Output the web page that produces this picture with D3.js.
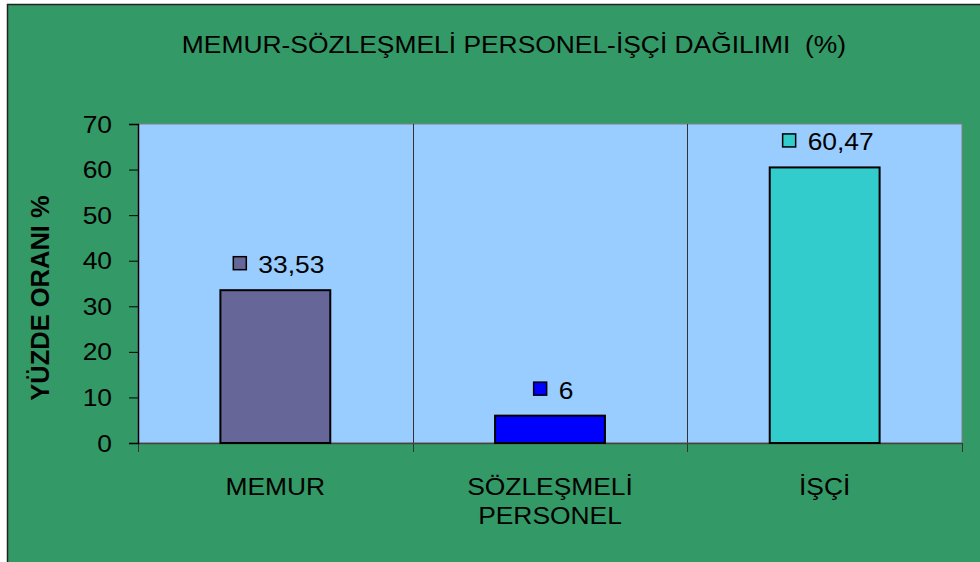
<!DOCTYPE html>
<html>
<head>
<meta charset="utf-8">
<script src="https://cdn.jsdelivr.net/npm/d3@7/dist/d3.min.js"></script>
<style>
  body { margin: 0; background: #fff; }
  text { font-family: "Liberation Sans", Arial, sans-serif; fill: #000; white-space: pre; }
</style>
</head>
<body>
<div id="chart"></div>
<script>
// data
var categories = ["MEMUR", "SÖZLEŞMELİ PERSONEL", "İŞÇİ"];
var catLines = [["MEMUR"], ["SÖZLEŞMELİ", "PERSONEL"], ["İŞÇİ"]];
var values = [33.53, 6, 60.47];
var valueLabels = ["33,53", "6", "60,47"];
var barColors = ["#666699", "#0000ff", "#33cccc"];
var yTicks = [0, 10, 20, 30, 40, 50, 60, 70];
var title = "MEMUR-SÖZLEŞMELİ PERSONEL-İŞÇİ DAĞILIMI  (%)";
var yTitle = "YÜZDE ORANI %";

var svgWidth = 980;
var svgHeight = 562;

var margin = { top: 124, right: 18, bottom: 119, left: 138 };
var width = svgWidth - margin.left - margin.right;
var height = svgHeight - margin.top - margin.bottom;
var stretch = 1.1;  // text in the picture is a bit wide

var svg = d3.select("#chart")
  .append("svg")
  .attr("width", svgWidth)
  .attr("height", svgHeight);

// frame
svg.append("rect")
  .attr("x", 7.5).attr("y", 4.5)
  .attr("width", svgWidth).attr("height", svgHeight)
  .attr("fill", "#339966")
  .attr("stroke", "#222")
  .attr("stroke-width", 1.5);

function wideText(sel, x, y, anchor) {
  return sel.append("text")
    .attr("transform", `translate(${x}, ${y}) scale(${stretch}, 1)`)
    .style("text-anchor", anchor || "middle");
}

wideText(svg, 514, 53)
  .style("font-size", "24px")
  .text(title);

var chartGroup = svg.append("g")
  .attr("transform", `translate(${margin.left}, ${margin.top})`);

// scales
var xBand = d3.scaleBand()
  .domain(categories)
  .range([0, width])
  .paddingInner(0.6)
  .paddingOuter(0.3);

var xCat = d3.scaleBand()
  .domain(categories)
  .range([0, width])
  .padding(0);

var yLinearScale = d3.scaleLinear()
  .domain([0, 70])
  .range([height, 0]);

// plot area
chartGroup.append("rect")
  .attr("width", width)
  .attr("height", height)
  .attr("fill", "#99ccff")
  .attr("stroke", "#808080")
  .attr("stroke-width", 1);

// category separators (they run down as ticks)
var sepPos = categories.map(d => xCat(d)).concat([width]);
chartGroup.selectAll(".sep")
  .data(sepPos)
  .enter()
  .append("line")
  .attr("x1", d => Math.round(d) + 0.5)
  .attr("x2", d => Math.round(d) + 0.5)
  .attr("y1", (d, i) => (i == 0 || i == sepPos.length - 1) ? height : 0)
  .attr("y2", height + 9)
  .attr("stroke", "#333")
  .attr("stroke-width", 1);

// bottom axis line
chartGroup.append("line")
  .attr("x1", 0).attr("x2", width)
  .attr("y1", height + 0.5).attr("y2", height + 0.5)
  .attr("stroke", "#444")
  .attr("stroke-width", 1.5);

// bars
chartGroup.selectAll(".bar")
  .data(values)
  .enter()
  .append("rect")
  .attr("x", (d, i) => xBand(categories[i]))
  .attr("y", d => yLinearScale(d))
  .attr("width", xBand.bandwidth())
  .attr("height", d => height - yLinearScale(d))
  .attr("fill", (d, i) => barColors[i])
  .attr("stroke", "#000")
  .attr("stroke-width", 2);

// left axis
var leftAxis = d3.axisLeft(yLinearScale)
  .tickValues(yTicks)
  .tickSize(9)
  .tickPadding(0);

var yAxisG = chartGroup.append("g").call(leftAxis);
yAxisG.select(".domain").attr("stroke", "#000").attr("stroke-width", 1.5);
yAxisG.selectAll(".tick line").attr("stroke", "#000");
yAxisG.selectAll(".tick text").remove();
yAxisG.selectAll(".tick").each(function (d) {
  wideText(d3.select(this), -26, 8, "end")
    .style("font-size", "24px")
    .text(d);
});

// value labels with legend key
values.forEach(function (v, i) {
  var cx = xBand(categories[i]) + xBand.bandwidth() / 2 + 3.5;
  var top = yLinearScale(v);
  var g = chartGroup.append("g");
  var t = wideText(g, 0, top - 17, "start")
    .style("font-size", "24px")
    .text(valueLabels[i]);
  var tw = t.node().getComputedTextLength() * stretch;
  var total = 13 + 12 + tw;
  var left = cx - total / 2;
  g.append("rect")
    .attr("x", left)
    .attr("y", top - 33.5)
    .attr("width", 13)
    .attr("height", 13)
    .attr("fill", barColors[i])
    .attr("stroke", "#000")
    .attr("stroke-width", 1.5);
  t.attr("transform", `translate(${left + 25}, ${top - 17}) scale(${stretch}, 1)`);
});

// category labels
catLines.forEach(function (lines, i) {
  var cx = xCat(categories[i]) + xCat.bandwidth() / 2;
  lines.forEach(function (line, j) {
    wideText(chartGroup, cx, height + 52 + j * 29)
      .style("font-size", "24px")
      .text(line);
  });
});

// y title
svg.append("text")
  .attr("transform", "translate(49, 298) rotate(-90)")
  .style("text-anchor", "middle")
  .style("font-size", "25.5px")
  .style("font-weight", "bold")
  .text(yTitle);
</script>
</body>
</html>
